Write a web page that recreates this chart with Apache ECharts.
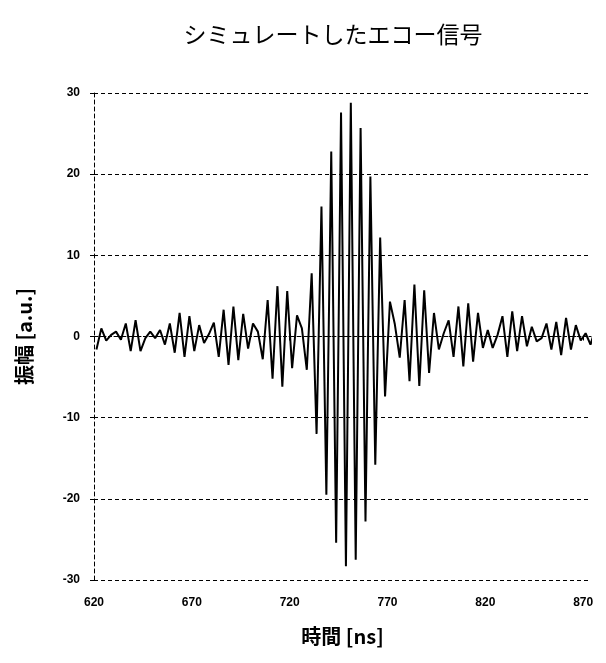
<!DOCTYPE html>
<html>
<head>
<meta charset="utf-8">
<script src="https://cdn.jsdelivr.net/npm/echarts@6/dist/echarts.min.js"></script>
<style>html,body{margin:0;padding:0;background:#fff}#c{width:606px;height:663px}</style>
</head>
<body>
<div id="c"></div>
<script>
// sampling of the echo signal (half-cycle extrema), ns
var tStart = 621.25;
var tStep = 2.5;
// amplitude [a.u.]
var amplitude = [
  -1.6, 1.0, -0.5, 0.2, 0.6, -0.4, 1.6, -1.8, 2.0, -1.8,
  -0.2, 0.6, -0.2, 0.8, -1.0, 1.6, -2.0, 2.9, -2.5, 2.5,
  -1.8, 1.4, -0.8, 0.3, 1.7, -2.5, 3.3, -3.5, 3.7, -2.9,
  2.8, -1.5, 1.6, 0.6, -2.8, 4.5, -5.2, 6.2, -6.2, 5.6,
  -3.9, 2.6, 1.0, -4.1, 7.8, -12.0, 16.0, -19.5, 22.8, -25.4,
  27.6, -28.3, 28.8, -27.5, 25.7, -22.8, 19.7, -15.8, 12.2, -7.4,
  4.3, 1.5, -2.6, 4.5, -5.5, 6.4, -6.1, 5.7, -4.5, 2.9,
  -1.6, 0.4, 2.0, -2.5, 3.7, -3.7, 4.1, -3.1, 2.9, -1.4,
  0.8, -1.4, 0.2, 2.5, -2.5, 3.1, -1.8, 2.5, -1.2, 1.2,
  -0.6, -0.2, 1.6, -1.6, 1.8, -2.3, 2.3, -1.6, 1.4, -0.5,
  0.4, -1.0, 1.0, -1.4
];
var xTicks = [620, 670, 720, 770, 820, 870];
var yTicks = [-30, -20, -10, 0, 10, 20, 30];

var seriesData = amplitude.map(function (v, i) { return [tStart + i * tStep, v]; });

var chart = echarts.init(document.getElementById('c'), null, {renderer: 'canvas'});
var labelStyle = {color: '#000', fontSize: 12, fontWeight: 'bold', fontFamily: 'Liberation Sans'};
chart.setOption({
  animation: false,
  backgroundColor: '#fff',
  title: {
    text: 'シミュレートしたエコー信号',
    left: 328, top: 18, textAlign: 'center',
    textStyle: {color: '#000', fontSize: 23, fontWeight: 'normal', fontFamily: 'Noto Sans CJK JP'}
  },
  grid: {left: 94, right: 15, top: 93, bottom: 83, containLabel: false},
  xAxis: {
    type: 'value', min: 620, max: 874, interval: 50,
    name: '時間 [ns]', nameLocation: 'middle', nameGap: 46,
    nameTextStyle: {color: '#000', fontSize: 20, fontWeight: 'bold', fontFamily: 'Noto Sans CJK JP'},
    axisLine: {show: true, lineStyle: {color: '#000', width: 1, type: [2, 3]}},
    axisTick: {show: true, length: 4, lineStyle: {color: '#000'}},
    axisLabel: Object.assign({margin: 17, showMaxLabel: false, formatter: function (v) { return xTicks.indexOf(v) >= 0 ? String(v) : ''; }}, labelStyle),
    splitLine: {show: false}
  },
  yAxis: {
    type: 'value', min: -30, max: 30, interval: 10,
    name: '振幅 [a.u.]', nameLocation: 'middle', nameGap: 60,
    nameTextStyle: {color: '#000', fontSize: 20, fontWeight: 'bold', fontFamily: 'Noto Sans CJK JP'},
    axisLine: {show: true, lineStyle: {color: '#000', width: 1, type: [4, 3]}},
    axisTick: {show: true, length: 4, lineStyle: {color: '#000'}},
    axisLabel: Object.assign({margin: 14, formatter: function (v) { return yTicks.indexOf(v) >= 0 ? String(v) : ''; }}, labelStyle),
    splitLine: {show: true, lineStyle: {color: '#000', width: 1, type: [4, 3]}}
  },
  series: [{
    type: 'line',
    data: seriesData,
    showSymbol: false,
    symbol: 'none',
    clip: false,
    lineStyle: {color: '#000', width: 2},
    z: 5
  }]
});
</script>
</body>
</html>
